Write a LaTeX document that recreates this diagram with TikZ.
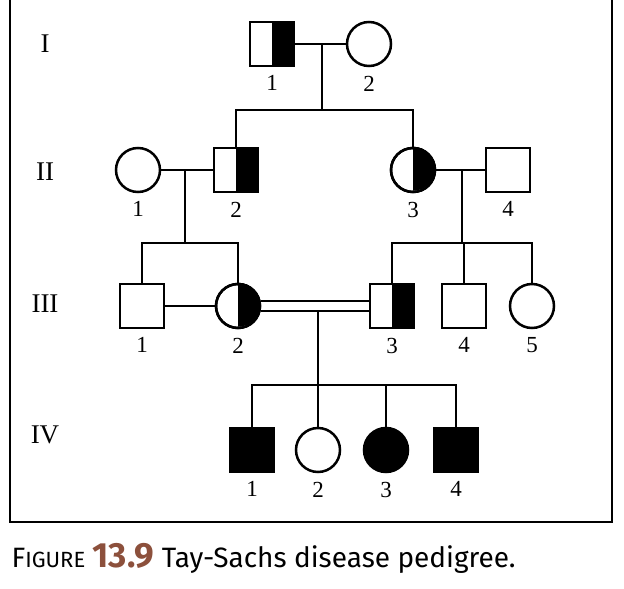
\documentclass[tikz,border=0pt]{standalone}
\usepackage{fontspec}
\setmainfont{Liberation Serif}
\newfontfamily\capfont{Fira Sans}
\definecolor{figbrown}{RGB}{140,80,60}
\usetikzlibrary{positioning}
\tikzset{
  male/.style={draw, line width=2.5pt, minimum size=44pt, inner sep=0pt},
  female/.style={draw, circle, line width=2.5pt, minimum size=44pt, inner sep=0pt},
  num/.style={font=\fontsize{23}{23}\selectfont},
  gen/.style={font=\fontsize{27}{27}\selectfont},
  link/.style={line width=2.5pt}
}
\newcommand{\carrierM}[1]{\fill (#1.north) rectangle (#1.south east);\node[male] at (#1) {};}
\newcommand{\carrierF}[1]{\fill (#1.north) arc (90:-90:22pt) -- cycle;\node[female] at (#1) {};}
\begin{document}
\begin{tikzpicture}[x=1pt,y=-1pt]
  \useasboundingbox (0,0) rectangle (624,589);
  \draw[line width=2pt] (10,-5) rectangle (612,522);
  % generation labels
  \node[gen] (gI) at (45,44) {I};
  \node[gen] (gII) at (45,172) {II};
  \node[gen] (gIII) at (45,304) {III};
  \node[gen] (gIV) at (45,435) {IV};
  % generation I
  \node[male] (a1) at (272,44) {};
  \node[female] (a2) at (369,44) {};
  \carrierM{a1}
  % generation II
  \node[female] (b1) at (138,170) {};
  \node[male] (b2) at (236,170) {};
  \node[female] (b3) at (413,170) {};
  \node[male] (b4) at (508,170) {};
  \carrierM{b2}
  \carrierF{b3}
  % generation III
  \node[male] (c1) at (142,306) {};
  \node[female] (c2) at (238,306) {};
  \node[male] (c3) at (392,306) {};
  \node[male] (c4) at (464,306) {};
  \node[female] (c5) at (532,306) {};
  \carrierF{c2}
  \carrierM{c3}
  % generation IV
  \node[male, fill] (d1) at (252,450) {};
  \node[female] (d2) at (318,450) {};
  \node[female, fill] (d3) at (386,450) {};
  \node[male, fill] (d4) at (456,450) {};
  % numbers
  \foreach \n/\t in {a1/1,a2/2,b1/1,b2/2,b3/3,b4/4,c1/1,c2/2,c3/3,c4/4,c5/5,d1/1,d2/2,d3/3,d4/4}
    \node[num, below=5pt of \n] {\t};
  % matings and sibships
  \coordinate (m1) at (322,44);
  \coordinate (s1) at (322,110);
  \draw[link] (a1) -- (a2);
  \draw[link] (m1) -- (s1);
  \draw[link] (b2.north) |- (s1) -| (b3.north);
  \coordinate (m2) at (185,170);
  \coordinate (s2) at (185,243);
  \draw[link] (b1) -- (b2);
  \draw[link] (m2) -- (s2);
  \draw[link] (c1.north) |- (s2) -| (c2.north);
  \coordinate (m3) at (462,170);
  \coordinate (s3) at (462,243);
  \draw[link] (b3) -- (b4);
  \draw[link] (m3) -- (s3);
  \draw[link] (c3.north) |- (s3) -| (c5.north);
  \draw[link] (c4.north) -- (c4.north |- s3);
  \draw[link] (c1) -- (c2);
  \draw[link] ([yshift=-5pt]c2.east) -- ([yshift=-5pt]c3.west);
  \draw[link] ([yshift=5pt]c2.east) -- ([yshift=5pt]c3.west);
  \coordinate (m4) at (318,311);
  \coordinate (s4) at (318,385);
  \draw[link] (m4) -- (s4);
  \draw[link] (d1.north) |- (s4) -| (d4.north);
  \draw[link] (d2.north) -- (d2.north |- s4);
  \draw[link] (d3.north) -- (d3.north |- s4);
  % caption
  \node[anchor=base west, font=\capfont\fontsize{28}{28}\selectfont] (cap) at (8,567)
    {F\fontsize{22}{22}\selectfont IGURE\fontsize{28}{28}\selectfont\ \textcolor{figbrown}{\fontsize{35}{35}\selectfont\bfseries 13.9} Tay-Sachs disease pedigree.};
\end{tikzpicture}
\end{document}
